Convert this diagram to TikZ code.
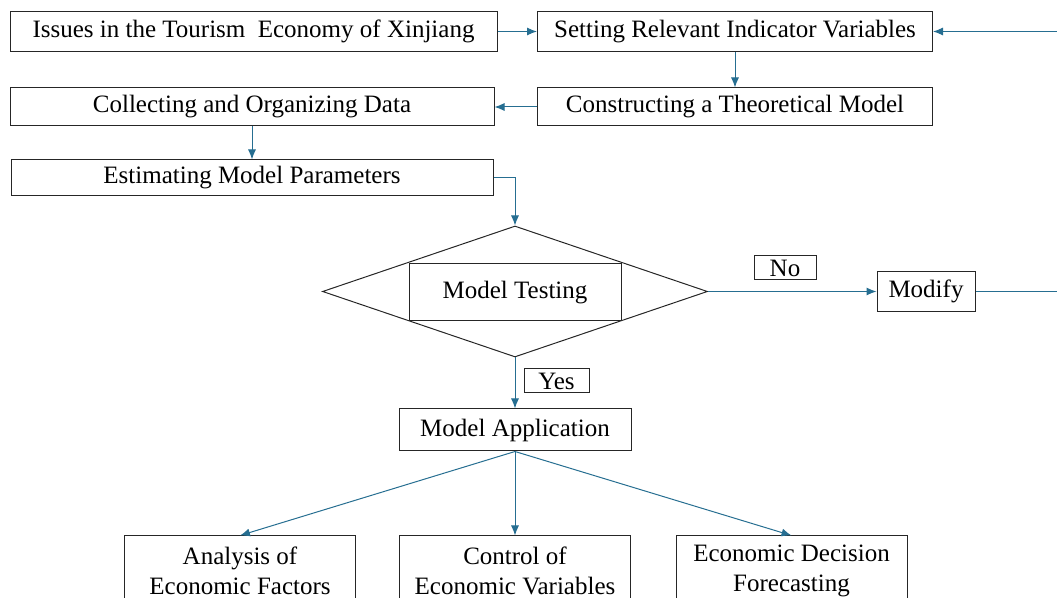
\documentclass[tikz,border=0pt]{standalone}
\usepackage{fontspec}
\setmainfont{Liberation Serif}
\usetikzlibrary{arrows.meta,shapes.geometric}
\definecolor{linkblue}{RGB}{38,110,145}
\begin{document}
\begin{tikzpicture}[x=0.5pt,y=-0.5pt,
  every node/.style={draw=black!85,rectangle,inner sep=0pt,line width=0.5pt,font=\fontsize{12.5}{15}\selectfont},
  box/.style={minimum height=20pt},
  wide/.style={box,minimum width=242pt},
  mid/.style={box,minimum width=197.5pt},
  leaf/.style={minimum width=115.5pt,minimum height=35pt,align=center},
  tag/.style={minimum height=12pt},
  link/.style={draw=linkblue,line width=0.5pt,-{Latex[length=5pt,width=4pt]}}
  ]
	\useasboundingbox (0,0) rectangle (1057,598);
	\clip (0,0) rectangle (1057,598);

	\node[wide,minimum width=243.5pt] (issues) at (253.5,31.5) {Issues in the Tourism\ \ Economy of Xinjiang};
	\node[mid] (setvar) at (735,31.5) {Setting Relevant Indicator Variables};
	\node[mid,minimum height=19pt] (theory) at (735,107) {Constructing a Theoretical Model};
	\node[wide,minimum height=19pt] (collect) at (252,107) {Collecting and Organizing Data};
	\node[wide,minimum width=241pt,minimum height=18pt] (estimate) at (252,178) {Estimating Model Parameters};

	\node[diamond,minimum width=192.5pt,minimum height=65.5pt] (test) at (515,291.5) {};
	\node[minimum width=106pt,minimum height=28.5pt] (testbox) at (515,292.5) {Model Testing};
	\node[tag,minimum width=31pt] (no) at (785,268) {No};
	\node[box,minimum width=49pt] (modify) at (926,291.5) {Modify};
	\node[tag,minimum width=32.5pt] (yes) at (556.5,381) {Yes};

	\node[box,minimum width=116pt,minimum height=21pt] (apply) at (515,430) {Model Application};
	\node[leaf] (analysis) at (240,571) {Analysis of\\Economic Factors};
	\node[leaf] (control) at (515,571) {Control of\\Economic Variables};
	\node[leaf] (forecast) at (791.5,571) {Economic Decision\\Forecasting};

	\draw[link] (issues) -- (setvar);
	\draw[link] (setvar) -- (theory);
	\draw[link] (theory) -- (collect);
	\draw[link] (collect) -- (estimate);
	\draw[link] (estimate.east) -| (test.north);
	\draw[link] (test.east) -- (modify.west);
	\draw[link] (modify.east) -- (1090,291.5) |- (setvar.east);
	\draw[link] (test.south) -- (apply.north);

	\draw[link] (apply.south) -- (analysis.north);
	\draw[link] (apply.south) -- (control.north);
	\draw[link] (apply.south) -- (forecast.north);
\end{tikzpicture}
\end{document}
